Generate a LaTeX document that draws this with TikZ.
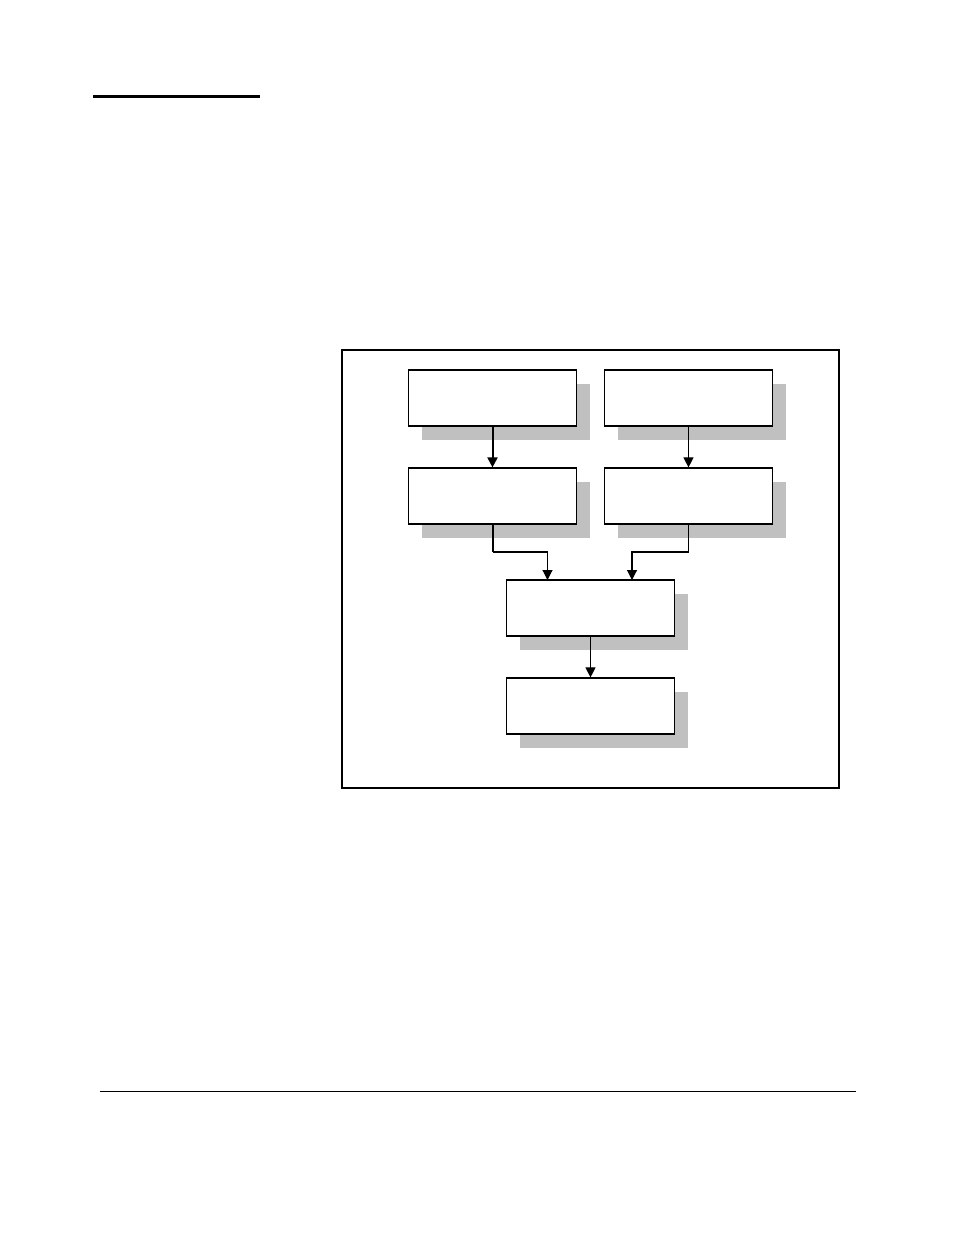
\documentclass[tikz,border=0pt]{standalone}
\usetikzlibrary{arrows.meta}
\definecolor{shadowgray}{HTML}{C0C0C0}
\begin{document}
\begin{tikzpicture}[x=1pt,y=-1pt,
  boxnode/.style={draw=black,fill=white,line width=1.2pt,minimum width=168pt,minimum height=56pt,inner sep=0pt},
  shadowbox/.style={fill=shadowgray,draw=none,minimum width=168pt,minimum height=56pt,inner sep=0pt},
  link/.style={draw=black,line width=1.1pt,-{Triangle[length=10pt,width=10pt]}},
  thicklink/.style={link,line width=2pt},
  thickseg/.style={draw=black,line width=2pt}]
\useasboundingbox (0,0) rectangle (954,1235);
% rules
\draw[line width=3pt] (93,96) -- (260,96);
\draw[line width=1pt] (100,1091) -- (856,1091);
% frame
\draw[line width=2pt] (342,350) rectangle (839,788);
% shadows
\node[shadowbox] (s1) at (506,412) {};
\node[shadowbox] (s2) at (702,412) {};
\node[shadowbox] (s3) at (506,510) {};
\node[shadowbox] (s4) at (702,510) {};
\node[shadowbox] (s5) at (604,622) {};
\node[shadowbox] (s6) at (604,720) {};
% boxes
\node[boxnode] (b1) at (492.5,398) {};
\node[boxnode] (b2) at (688.5,398) {};
\node[boxnode] (b3) at (492.5,496) {};
\node[boxnode] (b4) at (688.5,496) {};
\node[boxnode] (b5) at (590.5,608) {};
\node[boxnode] (b6) at (590.5,706) {};
% connectors
\coordinate (j1) at (492.5,552);
\coordinate (j2) at (688.5,552);
\draw[thicklink] (b1.south) -- (b3.north);
\draw[link] (b2.south) -- (b4.north);
\draw[thickseg] (b3.south) -- (j1);
\draw[link] (j1) -- (547.5,552) -- (547.5,580);
\draw[link] (b4.south) -- (j2) -- (632,552) -- (632,580);
\draw[link] (b5.south) -- (b6.north);
\end{tikzpicture}
\end{document}
